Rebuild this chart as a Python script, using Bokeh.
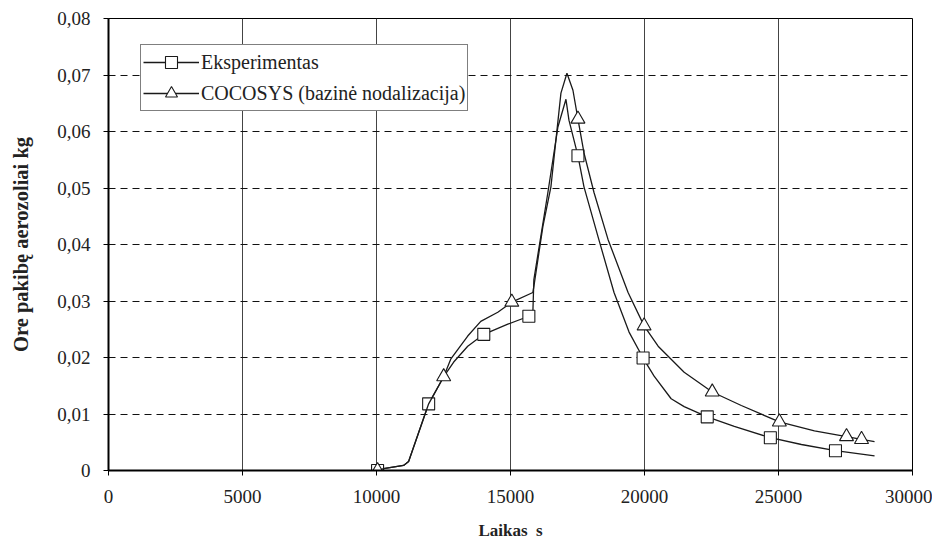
from bokeh.plotting import figure
from bokeh.models import Range1d, FixedTicker, Legend, LegendItem
from bokeh.embed import file_html
from bokeh.resources import INLINE

# Eksperimentas (curve)
exp_t = [10040, 10264, 11011, 11198, 11946, 12507, 12881, 13404, 14003, 14900, 15685, 15835,
         15872, 16395, 16769, 17069, 17181, 17517, 17742, 18265, 18863, 19424, 19947, 20359,
         20995, 21480, 22341, 23350, 24696, 25855, 27126, 28584]
exp_y = [0.0, 0.00035, 0.0009, 0.0016, 0.0118, 0.0166, 0.0192, 0.0220, 0.0241, 0.0259, 0.0273, 0.0280,
         0.0338, 0.0492, 0.0608, 0.0657, 0.0620, 0.0557, 0.0502, 0.0414, 0.0315, 0.0245, 0.0199, 0.0167,
         0.0127, 0.0113, 0.0095, 0.0078, 0.0058, 0.0046, 0.0035, 0.0026]
# Eksperimentas (markers)
exp_mt = [10040, 11946, 14003, 15685, 17517, 19947, 22341, 24696, 27126]
exp_my = [0.0, 0.0118, 0.0241, 0.0273, 0.0557, 0.0199, 0.0095, 0.0058, 0.0035]

# COCOSYS (curve)
coc_t = [10040, 10264, 11011, 11198, 11946, 12507, 12769, 13404, 13890, 14526, 15049, 15835,
         15872, 16209, 16508, 16882, 17106, 17330, 17517, 17742, 18116, 18639, 19387, 19985,
         20509, 21480, 22528, 23612, 25032, 26341, 27538, 28098, 28584]
coc_y = [0.0, 0.00035, 0.0009, 0.0016, 0.0118, 0.0166, 0.0197, 0.0238, 0.0264, 0.0280, 0.0298, 0.0315,
         0.0326, 0.0432, 0.0502, 0.0668, 0.0703, 0.0673, 0.0622, 0.0562, 0.0492, 0.0409, 0.0315, 0.0256,
         0.0220, 0.0174, 0.0139, 0.0115, 0.0086, 0.0070, 0.0060, 0.0055, 0.0051]
# COCOSYS (markers)
coc_mt = [10040, 12507, 15049, 17517, 19985, 22528, 25032, 27538, 28098]
coc_my = [0.0, 0.0166, 0.0298, 0.0622, 0.0256, 0.0139, 0.0086, 0.0060, 0.0055]

x_ticks = [0, 5000, 10000, 15000, 20000, 25000, 30000]
y_ticks = [0, 0.01, 0.02, 0.03, 0.04, 0.05, 0.06, 0.07, 0.08]
y_tick_labels = ["0", "0,01", "0,02", "0,03", "0,04", "0,05", "0,06", "0,07", "0,08"]

FONT = "Liberation Serif"
LINE = "#1a1a1a"

p = figure(width=932, height=542, output_backend="svg", toolbar_location=None,
           x_range=Range1d(0, 30000), y_range=Range1d(0, 0.08),
           min_border_left=108, min_border_right=20, min_border_top=18, min_border_bottom=70)
p.outline_line_color = "black"
p.outline_line_width = 1
p.background_fill_color = "white"
p.border_fill_color = "white"

# grids
p.xgrid.ticker = FixedTicker(ticks=x_ticks)
p.xgrid.grid_line_color = "#444444"
p.xgrid.grid_line_width = 1
p.ygrid.ticker = FixedTicker(ticks=y_ticks)
p.ygrid.grid_line_color = "#111111"
p.ygrid.grid_line_width = 1
p.ygrid.grid_line_dash = "7 5"

# axes
p.xaxis.ticker = FixedTicker(ticks=x_ticks)
p.xaxis.major_label_overrides = {t: str(t) for t in x_ticks}
p.yaxis.ticker = FixedTicker(ticks=y_ticks)
p.yaxis.major_label_overrides = {t: l for t, l in zip(y_ticks, y_tick_labels)}
for ax in (p.xaxis[0], p.yaxis[0]):
    ax.axis_line_width = 2
    ax.axis_line_color = "black"
    ax.major_tick_line_color = "black"
    ax.major_tick_in = 0
    ax.major_tick_out = 5
    ax.minor_tick_line_color = None
    ax.major_label_text_font = FONT
    ax.major_label_text_font_size = "19px"
    ax.major_label_text_color = "#222222"
    ax.axis_label_text_font = FONT
    ax.axis_label_text_font_style = "bold"
    ax.axis_label_text_color = "#222222"
p.xaxis.axis_label = "Laikas\u00a0\u00a0s"
p.yaxis.axis_label = "Ore pakibę aerozoliai kg"
p.xaxis.axis_label_text_font_size = "17px"
p.yaxis.axis_label_text_font_size = "20.5px"
p.xaxis.major_label_standoff = 14
p.yaxis.major_label_standoff = 13
p.xaxis.axis_label_standoff = 15
p.yaxis.axis_label_standoff = 22

# series
l1 = p.line(exp_t, exp_y, line_color=LINE, line_width=1.3)
m1 = p.scatter(exp_mt, exp_my, marker="square", size=12, fill_color="white",
               line_color=LINE, line_width=1.1)
l2 = p.line(coc_t, coc_y, line_color=LINE, line_width=1.3)
m2 = p.scatter(coc_mt, coc_my, marker="triangle", size=14, fill_color="white",
               line_color=LINE, line_width=1.1)

legend = Legend(items=[LegendItem(label="Eksperimentas", renderers=[l1, m1]),
                       LegendItem(label="COCOSYS (bazinė nodalizacija)", renderers=[l2, m2])],
                location=(32, 359))
legend.label_text_font = FONT
legend.label_text_font_size = "20px"
legend.label_text_color = "#222222"
legend.border_line_color = "black"
legend.border_line_width = 1
legend.background_fill_color = "white"
legend.background_fill_alpha = 1
legend.padding = 2
legend.margin = 0
legend.spacing = 1
legend.glyph_width = 56
legend.glyph_height = 30
legend.label_height = 20
legend.label_standoff = 2
p.add_layout(legend, "center")

open("out.html", "w").write(file_html(p, INLINE))
